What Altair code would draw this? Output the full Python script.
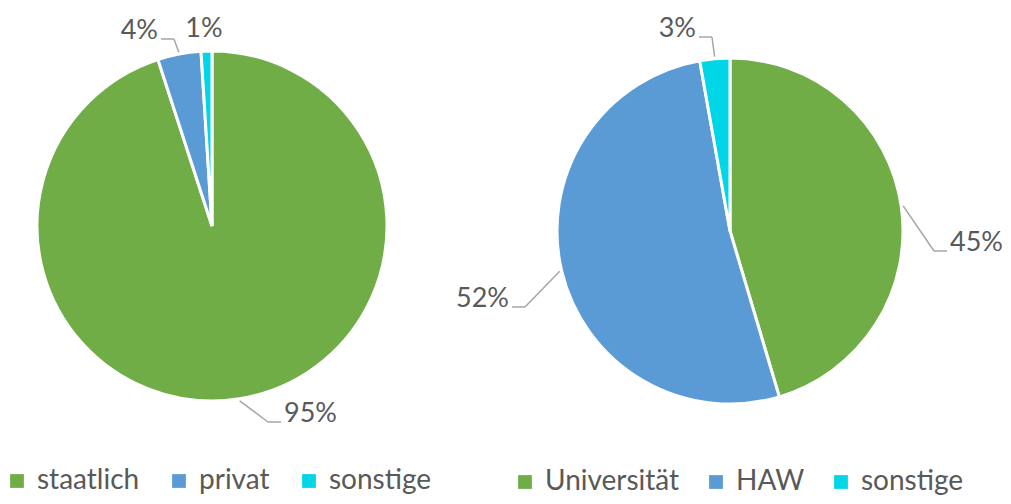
import altair as alt
import pandas as pd

# ---- data ----
left_cats = ["staatlich", "privat", "sonstige"]
left_vals = [95.0, 4.0, 1.0]
right_cats = ["Universität", "HAW", "sonstige"]
right_vals = [45.4, 51.8, 2.8]
slice_colors = ["#70AD47", "#5B9BD5", "#00D6E6"]

# ---- layout ----
W, H = 995, 488
FONT = "Lato"
TXT = "#595959"
LINE = "#A6A6A6"
FS = 27
LEG_FS = 28
SEG = 13   # horizontal part of leader line
GAP = 3    # gap between leader line and label

# label placement: elbow offset from pie centre (px) and label side (+1 right, -1 left, 0 = no leader)
left_place = [(56, 196, 1), (-38, -187, -1), (-8, -189, 0)]
right_place = [(204, 20, 1), (-205, 76, -1), (-18, -194, -1)]


def pie(cats, vals, place, cx, cy, R, lx, ly, colpad):
    df = pd.DataFrame({
        "cat": cats,
        "val": vals,
        "ord": list(range(len(cats))),
        "lab": [f"{round(v)}%" for v in vals],
        "ex": [p[0] for p in place],
        "ey": [p[1] for p in place],
        "side": [p[2] for p in place],
    })
    base = alt.Chart(df)
    color = alt.Color(
        "cat:N",
        scale=alt.Scale(domain=cats, range=slice_colors),
        sort=cats,
        legend=alt.Legend(
            title=None, orient="none", legendX=lx, legendY=ly,
            direction="horizontal", symbolType="square", symbolSize=190,
            symbolStrokeWidth=0, labelFont=FONT, labelFontSize=LEG_FS,
            labelColor=TXT, columnPadding=colpad, labelOffset=6,
        ),
    )
    arc = base.mark_arc(outerRadius=R, stroke="white", strokeWidth=3, x=cx, y=cy).encode(
        theta=alt.Theta("val:Q", stack=True),
        color=color,
        order=alt.Order("ord:Q"),
    )
    geo = (
        base.transform_window(cum="sum(val)", sort=[alt.SortField("ord")])
        .transform_joinaggregate(tot="sum(val)")
        .transform_calculate(
            mid="(datum.cum - datum.val / 2) / datum.tot * 2 * PI",
            x0=f"{cx} + {R + 2} * sin(datum.mid)",
            y0=f"{cy} - {R + 2} * cos(datum.mid)",
            x1=f"{cx} + datum.ex",
            y1=f"{cy} + datum.ey",
        )
        .transform_calculate(
            x2=f"datum.x1 + datum.side * {SEG}",
            tx=f"datum.x1 + datum.side * {SEG + GAP}",
        )
    )
    leaders = geo.transform_filter("datum.side != 0")
    diag = leaders.mark_rule(color=LINE, strokeWidth=1.5).encode(
        x=alt.X("x0:Q", scale=None), y=alt.Y("y0:Q", scale=None),
        x2="x1:Q", y2="y1:Q",
    )
    horiz = leaders.mark_rule(color=LINE, strokeWidth=1.5).encode(
        x=alt.X("x1:Q", scale=None), y=alt.Y("y1:Q", scale=None),
        x2="x2:Q", y2="y1:Q",
    )
    layers = [arc, diag, horiz]
    for side, align in [(1, "left"), (-1, "right"), (0, "center")]:
        layers.append(
            geo.transform_filter(f"datum.side == {side}")
            .mark_text(align=align, baseline="alphabetic", font=FONT, fontSize=FS, color=TXT)
            .encode(x=alt.X("tx:Q", scale=None), y=alt.Y("y1:Q", scale=None), text="lab:N")
        )
    return alt.layer(*layers)


left = pie(left_cats, left_vals, left_place, 204, 218, 175, -5, 459, 25)
right = pie(right_cats, right_vals, right_place, 722, 223, 173, 503, 460, 22)

chart = (
    alt.layer(left, right)
    .resolve_scale(color="independent", theta="independent")
    .properties(width=W, height=H, padding=0, autosize=alt.AutoSizeParams(type="none"))
    .configure_view(stroke=None)
)

chart.save("out.html", embed_options={"renderer": "svg", "actions": False})
